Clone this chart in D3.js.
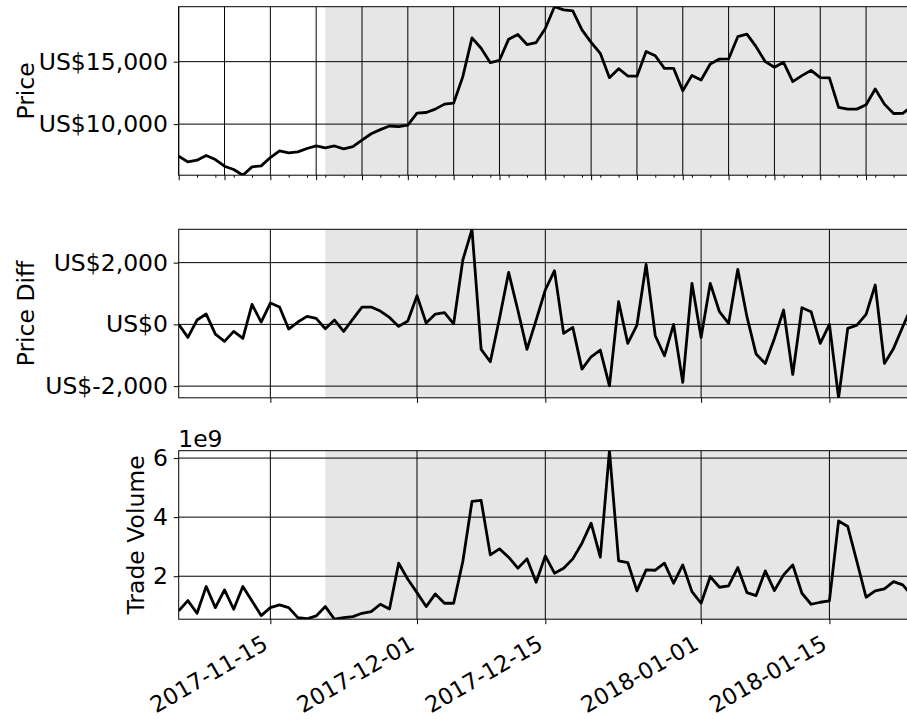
<!DOCTYPE html>
<html>
<head>
<meta charset="utf-8">
<script src="https://cdn.jsdelivr.net/npm/d3@7"></script>
<style>
  body { margin: 0; background: #fff; }
  text { font-family: "DejaVu Sans", sans-serif; }
</style>
</head>
<body>
<svg id="chart" width="907" height="719"></svg>
<script>
// Daily BTC close, day-over-day change and traded volume
const dates = [
  "2017-11-05","2017-11-06","2017-11-07","2017-11-08","2017-11-09","2017-11-10","2017-11-11","2017-11-12",
  "2017-11-13","2017-11-14","2017-11-15","2017-11-16","2017-11-17","2017-11-18","2017-11-19","2017-11-20",
  "2017-11-21","2017-11-22","2017-11-23","2017-11-24","2017-11-25","2017-11-26","2017-11-27","2017-11-28",
  "2017-11-29","2017-11-30","2017-12-01","2017-12-02","2017-12-03","2017-12-04","2017-12-05","2017-12-06",
  "2017-12-07","2017-12-08","2017-12-09","2017-12-10","2017-12-11","2017-12-12","2017-12-13","2017-12-14",
  "2017-12-15","2017-12-16","2017-12-17","2017-12-18","2017-12-19","2017-12-20","2017-12-21","2017-12-22",
  "2017-12-23","2017-12-24","2017-12-25","2017-12-26","2017-12-27","2017-12-28","2017-12-29","2017-12-30",
  "2017-12-31","2018-01-01","2018-01-02","2018-01-03","2018-01-04","2018-01-05","2018-01-06","2018-01-07",
  "2018-01-08","2018-01-09","2018-01-10","2018-01-11","2018-01-12","2018-01-13","2018-01-14","2018-01-15",
  "2018-01-16","2018-01-17","2018-01-18","2018-01-19","2018-01-20","2018-01-21","2018-01-22","2018-01-23",
  "2018-01-24"
];

const price = [
  7433, 6978, 7112, 7486, 7165, 6630, 6363, 5910, 6577, 6657,
  7326, 7860, 7700, 7780, 8048, 8250, 8101, 8250, 8020, 8190,
  8720, 9230, 9560, 9850, 9800, 9920, 10880, 10930, 11200, 11600,
  11680, 13800, 16900, 16070, 14920, 15110, 16800, 17170, 16370, 16530,
  17650, 19400, 19150, 19060, 17540, 16550, 15670, 13720, 14440, 13850,
  13840, 15820, 15470, 14460, 14460, 12670, 13900, 13530, 14810, 15210,
  15220, 17000, 17200, 16200, 15000, 14550, 14950, 13400, 13880, 14300,
  13720, 13700, 11340, 11200, 11200, 11550, 12810, 11600, 10850, 10860,
  11420
];

const priceDiff = [
  0, -422, 141, 335, -313, -551, -227, -454, 649, 76,
  692, 562, -151, 76, 259, 195, -141, 141, -227, 173,
  562, 562, 432, 227, -65, 108, 930, 43, 335, 378,
  20, 2086, 3080, -811, -1211, 190, 1686, 465, -811, 140,
  1113, 1740, -292, -97, -1449, -1049, -832, -1989, 735, -616,
  -22, 1946, -368, -1017, 0, -1881, 1330, -422, 1330, 411,
  32, 1784, 250, -962, -1265, -454, 465, -1622, 541, 411,
  -616, 0, -2378, -130, -22, 324, 1276, -1265, -778, -76,
  600
];

const volume = [
  0.825e9, 1.175e9, 0.746e9, 1.650e9, 0.938e9, 1.537e9, 0.881e9, 1.650e9, 1.164e9, 0.667e9,
  0.938e9, 1.028e9, 0.938e9, 0.599e9, 0.560e9, 0.655e9, 0.972e9, 0.545e9, 0.599e9, 0.633e9,
  0.746e9, 0.802e9, 1.051e9, 0.893e9, 2.441e9, 1.898e9, 1.446e9, 0.972e9, 1.401e9, 1.085e9,
  1.085e9, 2.500e9, 4.531e9, 4.565e9, 2.723e9, 2.927e9, 2.644e9, 2.271e9, 2.588e9, 1.797e9,
  2.689e9, 2.102e9, 2.271e9, 2.588e9, 3.119e9, 3.797e9, 2.644e9, 6.250e9, 2.520e9, 2.463e9,
  1.503e9, 2.215e9, 2.203e9, 2.441e9, 1.763e9, 2.384e9, 1.480e9, 1.085e9, 1.989e9, 1.627e9,
  1.672e9, 2.294e9, 1.446e9, 1.345e9, 2.181e9, 1.514e9, 2.045e9, 2.384e9, 1.424e9, 1.051e9,
  1.119e9, 1.164e9, 3.876e9, 3.684e9, 2.497e9, 1.288e9, 1.503e9, 1.571e9, 1.819e9, 1.706e9,
  1.345e9
];

const shadeStart = "2017-11-21";
const dateTicks = ["2017-11-15", "2017-12-01", "2017-12-15", "2018-01-01", "2018-01-15"];
const priceTicks = [10000, 15000];
const diffTicks = [-2000, 0, 2000];
const volumeTicks = [2e9, 4e9, 6e9];
const labels = ["Price", "Price Diff", "Trade Volume"];

// ---- layout ----
const W = 907, H = 719;
const plotLeft = 178.7, dayWidth = 9.165;
const panelTops = [6.7, 229.3, 450.7], panelHeight = 168.5;
const fontSize = 23.5, dateFontSize = 22.5;

const parse = d3.utcParse("%Y-%m-%d");
const days = dates.map(parse);
const x = d3.scaleUtc()
  .domain(d3.extent(days))
  .range([plotLeft, plotLeft + dayWidth * (days.length - 1)]);
const plotRight = x.range()[1];

const usd = d3.formatLocale({ decimal: ".", thousands: ",", grouping: [3], currency: ["$", ""], minus: "-" }).format(",.0f");
const dollarFmt = v => "US$" + usd(v);

const svg = d3.select("#chart");
const defs = svg.append("defs");

// ticks of the upper panel: every fifth day, minor marks every second day
const topMajor = d3.utcDay.range(days[0], d3.utcDay.offset(days[days.length - 1], 1), 5);
const topMinor = d3.utcDay.range(days[0], d3.utcDay.offset(days[days.length - 1], 1), 2)
  .filter(d => !topMajor.some(m => +m === +d));
const bottomTicks = dateTicks.map(parse);

const panels = [
  { values: price, ticks: priceTicks, fmt: dollarFmt, label: labels[0], labelX: 33.5, xMajor: topMajor, xMinor: topMinor, dateLabels: false },
  { values: priceDiff, ticks: diffTicks, fmt: dollarFmt, label: labels[1], labelX: 33.5, xMajor: bottomTicks, xMinor: [], dateLabels: false },
  { values: volume, ticks: volumeTicks, fmt: v => d3.format("d")(v / 1e9), label: labels[2], labelX: 144, xMajor: bottomTicks, xMinor: [], dateLabels: true, offsetText: "1e9" }
];

panels.forEach((p, i) => {
  const top = panelTops[i], bottom = top + panelHeight;
  const y = d3.scaleLinear().domain(d3.extent(p.values)).range([bottom, top]);
  const g = svg.append("g");

  const clipId = "plot-clip-" + i;
  defs.append("clipPath").attr("id", clipId)
    .append("rect").attr("x", plotLeft).attr("y", top)
    .attr("width", plotRight - plotLeft).attr("height", panelHeight);

  // highlighted period
  g.append("rect")
    .attr("x", x(parse(shadeStart))).attr("y", top)
    .attr("width", plotRight - x(parse(shadeStart))).attr("height", panelHeight)
    .attr("fill", "#e6e6e6");

  // grid
  const grid = g.append("g").attr("stroke", "#000").attr("stroke-width", 1).attr("fill", "none");
  grid.selectAll("line.v").data(p.xMajor).join("line").attr("class", "v")
    .attr("x1", d => x(d)).attr("x2", d => x(d)).attr("y1", top).attr("y2", bottom);
  grid.selectAll("line.h").data(p.ticks).join("line").attr("class", "h")
    .attr("x1", plotLeft).attr("x2", plotRight).attr("y1", d => y(d)).attr("y2", d => y(d));

  // series line
  const line = d3.line().x((d, j) => x(days[j])).y(d => y(d));
  g.append("path")
    .datum(p.values)
    .attr("clip-path", `url(#${clipId})`)
    .attr("fill", "none").attr("stroke", "#000").attr("stroke-width", 2.8)
    .attr("stroke-linejoin", "round").attr("stroke-linecap", "butt")
    .attr("d", line);

  // frame
  g.append("rect")
    .attr("x", plotLeft).attr("y", top)
    .attr("width", plotRight - plotLeft).attr("height", panelHeight)
    .attr("fill", "none").attr("stroke", "#000").attr("stroke-width", 1);

  // y axis
  const yAxis = g.append("g").attr("transform", `translate(${plotLeft},0)`)
    .call(d3.axisLeft(y).tickValues(p.ticks).tickFormat(p.fmt).tickSize(5).tickPadding(5.7));
  yAxis.select(".domain").remove();
  yAxis.selectAll("text").attr("font-size", fontSize).attr("font-family", "DejaVu Sans").attr("fill", "#000");
  yAxis.selectAll("line").attr("stroke", "#000");

  // x axis ticks
  const xAxis = g.append("g").attr("transform", `translate(0,${bottom})`)
    .call(d3.axisBottom(x).tickValues(p.xMajor).tickSize(5).tickFormat(""));
  xAxis.select(".domain").remove();
  xAxis.selectAll("line").attr("stroke", "#000");
  if (p.xMinor.length) {
    const minor = g.append("g").attr("transform", `translate(0,${bottom})`)
      .call(d3.axisBottom(x).tickValues(p.xMinor).tickSize(2.5).tickFormat(""));
    minor.select(".domain").remove();
    minor.selectAll("line").attr("stroke", "#000");
  }

  if (p.dateLabels) {
    const fmtDate = d3.utcFormat("%Y-%m-%d");
    g.append("g").selectAll("text").data(p.xMajor).join("text")
      .attr("transform", d => `translate(${x(d) - 1},${bottom + 29}) rotate(-30)`)
      .attr("text-anchor", "end")
      .attr("font-size", dateFontSize)
      .attr("fill", "#000")
      .text(d => fmtDate(d));
  }

  if (p.offsetText) {
    g.append("text")
      .attr("x", plotLeft - 0.5).attr("y", top - 4)
      .attr("font-size", fontSize).attr("fill", "#000")
      .text(p.offsetText);
  }

  // axis title
  g.append("text")
    .attr("transform", `translate(${p.labelX},${(top + bottom) / 2}) rotate(-90)`)
    .attr("text-anchor", "middle")
    .attr("font-size", fontSize).attr("fill", "#000")
    .text(p.label);
});
</script>
</body>
</html>
